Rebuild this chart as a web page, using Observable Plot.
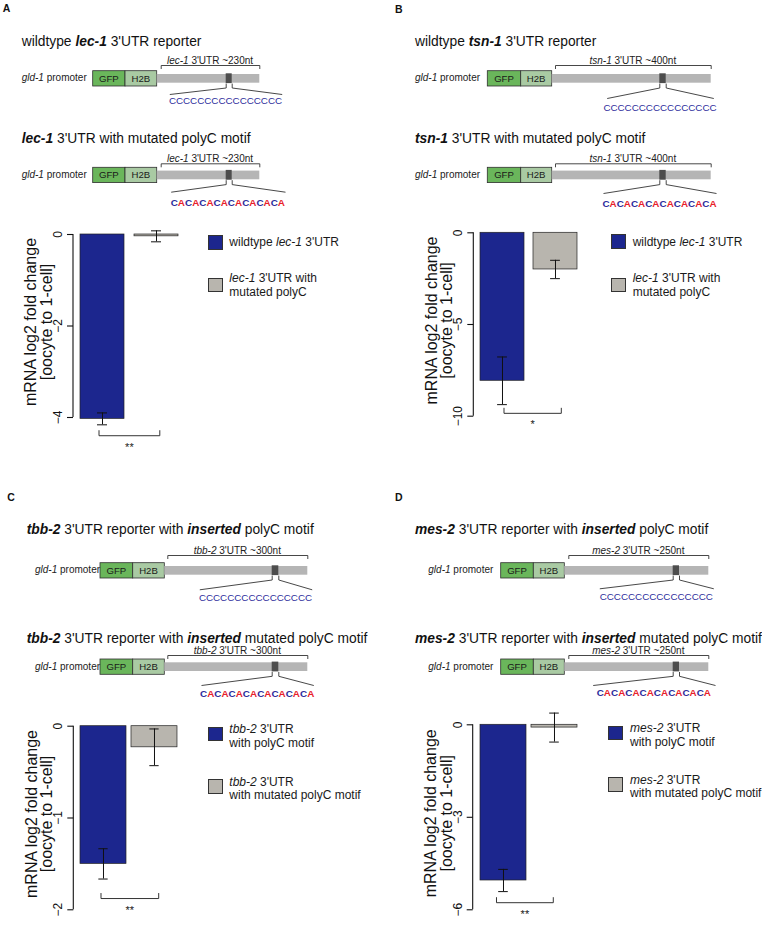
<!DOCTYPE html>
<html><head><meta charset="utf-8">
<script src="https://cdn.jsdelivr.net/npm/d3@7"></script>
<script src="https://cdn.jsdelivr.net/npm/@observablehq/plot@0.6"></script>
<style>
html,body{margin:0;padding:0;background:#fff;overflow:hidden;}
#fig{position:relative;width:762px;height:927px;overflow:hidden;font-family:"Liberation Sans",Arial,Helvetica,sans-serif;color:#111;}
.t{position:absolute;white-space:nowrap;}
</style></head><body><div id="fig"></div>
<script>
// ---------------- data ----------------
const panelLetters = ["A", "B", "C", "D"];
const geneNames = ["lec-1", "tsn-1", "tbb-2", "mes-2"];
const utrLengths = ["~230nt", "~400nt", "~300nt", "~250nt"];
const polyCSeq = "CCCCCCCCCCCCCCCC";
const mutatedSeq = "CACACACACACACACA";
const groupKeys = ["wt", "mut"];
const wtMeans = [-4.03, -8.07, -1.50, -5.05];
const wtErrs = [0.13, 1.30, 0.165, 0.36];
const mutMeans = [-0.04, -2.00, -0.23, -0.09];
const mutErrs = [0.12, 0.50, 0.20, 0.47];
const yTicks = [[0, -2, -4], [0, -5, -10], [0, -1, -2], [0, -3, -6]];
const significance = ["**", "*", "**", "**"];
const yLabelLines = ["mRNA log2 fold change", "[oocyte to 1-cell]"];
// titles: [text, style] parts ("bi" bold italic, "i" italic)
const rowTitles = [
  [["wildtype ", ""], ["lec-1", "bi"], [" 3'UTR reporter", ""]],
  [["lec-1", "bi"], [" 3'UTR with mutated polyC motif", ""]],
  [["wildtype ", ""], ["tsn-1", "bi"], [" 3'UTR reporter", ""]],
  [["tsn-1", "bi"], [" 3'UTR with mutated polyC motif", ""]],
  [["tbb-2", "bi"], [" 3'UTR reporter with ", ""], ["inserted", "bi"], [" polyC motif", ""]],
  [["tbb-2", "bi"], [" 3'UTR reporter with ", ""], ["inserted", "bi"], [" mutated polyC motif", ""]],
  [["mes-2", "bi"], [" 3'UTR reporter with ", ""], ["inserted", "bi"], [" polyC motif", ""]],
  [["mes-2", "bi"], [" 3'UTR reporter with ", ""], ["inserted", "bi"], [" mutated polyC motif", ""]]
];
const legendLabels = [
  [[[["wildtype ", ""], ["lec-1", "i"], [" 3'UTR", ""]]], [[["lec-1", "i"], [" 3'UTR with", ""]], [["mutated polyC", ""]]]],
  [[[["wildtype ", ""], ["lec-1", "i"], [" 3'UTR", ""]]], [[["lec-1", "i"], [" 3'UTR with", ""]], [["mutated polyC", ""]]]],
  [[[["tbb-2", "i"], [" 3'UTR", ""]], [["with polyC motif", ""]]], [[["tbb-2", "i"], [" 3'UTR", ""]], [["with mutated polyC motif", ""]]]],
  [[[["mes-2", "i"], [" 3'UTR", ""]], [["with polyC motif", ""]]], [[["mes-2", "i"], [" 3'UTR", ""]], [["with mutated polyC motif", ""]]]]
];

// ---------------- styles / layout ----------------
const FONT = '"Liberation Sans", Arial, Helvetica, sans-serif';
const BLUE = "#1c268e", GRAY = "#b8b5ae";
const SEQBLUE = "#2c2c9c", SEQRED = "#e8202a";
const schemColors = {gfp: "#6ab65b", h2b: "#a9caa3", utr: "#b5b5b5", motif: "#4d4d4d"};
const letterPos = [[2.7, 11.9], [395, 12.6], [7.3, 500.9], [395, 500.9]];
const schemLayout = [
  {titleX: 21.7, titleBase: 46.7, promX: 21.7, gfp: [92.7, 125], h2bEnd: 156.7, utrEnd: 259.3, blk: [225.7, 231.7], brk: [160.7, 259.3], brkY: 65, boxTop: 70.7, seq: [169.3, 281.7], connEnd: 94, seqBase: 104},
  {titleX: 21.7, titleBase: 143.3, promX: 21.7, gfp: [92.7, 125], h2bEnd: 156.7, utrEnd: 259.3, blk: [225.7, 231.7], brk: [160.7, 259.3], brkY: 163.3, boxTop: 167.3, seq: [170.7, 285], connEnd: 191.7, seqBase: 206.5},
  {titleX: 415, titleBase: 46.7, promX: 415, gfp: [487.3, 520.7], h2bEnd: 551.7, utrEnd: 710.7, blk: [659.3, 665.7], brk: [555, 710.7], brkY: 65, boxTop: 70.7, seq: [606.7, 713.3], connEnd: 98, seqBase: 111},
  {titleX: 415, titleBase: 143.3, promX: 415, gfp: [487.3, 520.7], h2bEnd: 551.7, utrEnd: 710.7, blk: [659.3, 665.7], brk: [555, 710.7], brkY: 163.3, boxTop: 167.3, seq: [603, 716], connEnd: 193, seqBase: 207},
  {titleX: 26.7, titleBase: 535, promX: 35, gfp: [100, 132.7], h2bEnd: 164.3, utrEnd: 307.3, blk: [271.7, 278.3], brk: [167.3, 307.3], brkY: 555, boxTop: 562.7, seq: [199.3, 311.7], connEnd: 589.3, seqBase: 601},
  {titleX: 26.7, titleBase: 643.3, promX: 35, gfp: [100, 132.7], h2bEnd: 164.3, utrEnd: 307.3, blk: [271.7, 278.3], brk: [167.3, 307.3], brkY: 655, boxTop: 659, seq: [201, 313.3], connEnd: 685, seqBase: 697},
  {titleX: 415, titleBase: 535, promX: 428.3, gfp: [500.7, 533.3], h2bEnd: 564.3, utrEnd: 708.3, blk: [672.7, 679], brk: [568.3, 708.3], brkY: 555, boxTop: 562.7, seq: [599.3, 713.3], connEnd: 588.3, seqBase: 600.7},
  {titleX: 415, titleBase: 643.3, promX: 428.3, gfp: [500.7, 533.3], h2bEnd: 564.3, utrEnd: 708.3, blk: [672.7, 679], brk: [568.3, 708.3], brkY: 655, boxTop: 659, seq: [592.7, 715], connEnd: 685, seqBase: 696}
];
const chartLayout = [
  {left: 0, top: 200, axisX: 73, y0: 234, yMin: 417, outer: 7, bw: 44, gap: 10, brOff: 11.4, brDx: [-3, 3.8], legX: 207.7, legY: [235, 277.7], legTextX: 229.3, legDy: 0},
  {left: 400, top: 200, axisX: 473.3, y0: 232.3, yMin: 415.7, outer: 5.7, bw: 44.2, gap: 9.4, brOff: 9.2, brDx: [2, 6.3], legX: 611, legY: [234.3, 277.7], legTextX: 632.7, legDy: 0},
  {left: 0, top: 690, axisX: 73.3, y0: 725.7, yMin: 909.3, outer: 6, bw: 46.7, gap: 4.7, brOff: 20, brDx: [-2, 4.7], legX: 207.7, legY: [726.7, 779], legTextX: 229.3, legDy: 2},
  {left: 400, top: 690, axisX: 472.7, y0: 724.3, yMin: 909.3, outer: 6.6, bw: 46.4, gap: 5, brOff: 11.6, brDx: [-6.5, -0.7], legX: 608.3, legY: [725.7, 777.3], legTextX: 630, legDy: 2}
];

const fig = document.getElementById("fig");
function parts(line) {
  return line.map(([t, s]) => s === "bi" ? `<b><i>${t}</i></b>` : s === "i" ? `<i>${t}</i>` : t).join("");
}
function addText(html, x, base, fs, extra = "") {
  const d = document.createElement("div");
  d.className = "t";
  d.style.cssText = `left:${x}px;top:${base - 0.8465 * fs}px;font-size:${fs}px;line-height:${fs}px;${extra}`;
  d.innerHTML = html;
  fig.appendChild(d);
  return d;
}

// ---------------- schematics (Plot, identity scales) ----------------
const rects = [], links = [];
schemLayout.forEach(s => {
  const bt = s.boxTop, bb = bt + 15.3;
  rects.push({x1: s.gfp[0], x2: s.gfp[1], y1: bt, y2: bb, part: "gfp"});
  rects.push({x1: s.gfp[1], x2: s.h2bEnd, y1: bt, y2: bb, part: "h2b"});
  rects.push({x1: s.h2bEnd, x2: s.utrEnd, y1: bt + 3.3, y2: bt + 12, part: "utr"});
  rects.push({x1: s.blk[0], x2: s.blk[1], y1: bt + 2.6, y2: bt + 12.4, part: "motif"});
  links.push({x1: s.brk[0], y1: s.brkY + 3.5, x2: s.brk[0], y2: s.brkY});
  links.push({x1: s.brk[0], y1: s.brkY, x2: s.brk[1], y2: s.brkY});
  links.push({x1: s.brk[1], y1: s.brkY, x2: s.brk[1], y2: s.brkY + 3.5});
  const yb = bt + 12.4, yk = yb + 4.4;
  links.push({x1: s.blk[0], y1: yb, x2: s.blk[0], y2: yk});
  links.push({x1: s.blk[0], y1: yk, x2: s.seq[0], y2: s.connEnd});
  links.push({x1: s.blk[1], y1: yb, x2: s.blk[1], y2: yk});
  links.push({x1: s.blk[1], y1: yk, x2: s.seq[1], y2: s.connEnd});
});
const schem = Plot.plot({
  width: 762, height: 927, margin: 0,
  style: {background: "transparent", fontFamily: FONT},
  x: {type: "identity", axis: null},
  y: {type: "identity", axis: null},
  marks: [
    Plot.rect(rects, {x1: "x1", x2: "x2", y1: "y1", y2: "y2", fill: d => schemColors[d.part],
      stroke: d => (d.part === "gfp" || d.part === "h2b") ? "#2f2f2f" : "none", strokeWidth: 0.8}),
    Plot.link(links, {x1: "x1", y1: "y1", x2: "x2", y2: "y2", stroke: "#333", strokeWidth: 0.9})
  ]
});
schem.style.position = "absolute"; schem.style.left = "0px"; schem.style.top = "0px";
fig.appendChild(schem);

// schematic texts
schemLayout.forEach((s, r) => {
  const p = Math.floor(r / 2), mutated = r % 2 === 1;
  addText(parts(rowTitles[r]), s.titleX, s.titleBase, 13.8);
  addText("<i>gld-1</i> promoter", s.promX, s.boxTop + 11, 10, "color:#222;");
  addText("GFP", (s.gfp[0] + s.gfp[1]) / 2, s.boxTop + 11.3, 9.6, "transform:translateX(-50%);color:#1a1a1a;");
  addText("H2B", (s.gfp[1] + s.h2bEnd) / 2, s.boxTop + 11.3, 9.6, "transform:translateX(-50%);color:#1a1a1a;");
  addText(`<i>${geneNames[p]}</i> 3'UTR ${utrLengths[p]}`, (s.brk[0] + s.brk[1]) / 2, s.brkY - 0.8, 10, "transform:translateX(-50%);color:#222;");
  const cx = (s.seq[0] + s.seq[1]) / 2;
  if (!mutated) {
    addText(polyCSeq, cx, s.seqBase, 9.8, `transform:translateX(-50%);color:${SEQBLUE};`);
  } else {
    const html = mutatedSeq.split("").map(c => `<span style="color:${c === "A" ? SEQRED : SEQBLUE}">${c}</span>`).join("");
    addText(html, cx, s.seqBase, 9.9, "transform:translateX(-50%);font-weight:bold;");
  }
});
panelLetters.forEach((l, i) => addText(`<b>${l}</b>`, letterPos[i][0], letterPos[i][1], 10.5));

// ---------------- bar charts ----------------
function drawChart(i) {
  const L = chartLayout[i];
  const rows = [
    {key: groupKeys[0], value: wtMeans[i], err: wtErrs[i]},
    {key: groupKeys[1], value: mutMeans[i], err: mutErrs[i]}
  ];
  const ticks = yTicks[i];
  const yMinVal = d3.min(ticks);
  const step = L.bw + L.gap;
  const bandRange = 2 * L.outer + 2 * L.bw + L.gap;
  const marginLeft = L.axisX - L.left;
  const marginTop = L.y0 - L.top;
  const marginBottom = 60, marginRight = 6;
  const width = marginLeft + bandRange + marginRight;
  const height = marginTop + (L.yMin - L.y0) + marginBottom;
  const capInset = (L.bw - 10) / 2;
  const fmt = d => d < 0 ? "\u2212" + (-d) : String(d);
  const lowest = d3.min(rows, d => d.value - d.err);
  const axisLine = (index, scales, values, dims) => d3.create("svg:line")
    .attr("x1", dims.marginLeft).attr("x2", dims.marginLeft)
    .attr("y1", scales.y(0)).attr("y2", scales.y(yMinVal))
    .attr("stroke", "#111").attr("stroke-width", 1.1).node();
  const bracket = (index, scales, values, dims) => {
    const {x, y} = scales;
    const half = x.bandwidth() / 2;
    const yb = y(lowest) + L.brOff;
    const x1 = x(groupKeys[0]) + half + L.brDx[0];
    const x2 = x(groupKeys[1]) + half + L.brDx[1];
    const g = d3.create("svg:g");
    g.append("path").attr("d", `M${x1},${yb - 5.5}V${yb}H${x2}V${yb - 5.5}`)
      .attr("fill", "none").attr("stroke", "#333").attr("stroke-width", 1);
    g.append("text").attr("x", (x1 + x2) / 2).attr("y", yb + 15).attr("text-anchor", "middle")
      .attr("font-size", 11).attr("fill", "#222").text(significance[i]);
    return g.node();
  };
  const svg = Plot.plot({
    width, height, marginLeft, marginRight, marginTop, marginBottom,
    style: {background: "transparent", overflow: "visible", fontFamily: FONT},
    x: {type: "band", domain: groupKeys, paddingInner: L.gap / step, paddingOuter: L.outer / step, axis: null},
    y: {domain: [yMinVal, 0], axis: null},
    color: {domain: groupKeys, range: [BLUE, GRAY]},
    marks: [
      axisLine,
      Plot.axisY({ticks, tickSize: 6, fill: "none", label: null, strokeWidth: 1.1, stroke: "#111"}),
      Plot.text(ticks, {y: d => d, text: fmt, frameAnchor: "left", textAnchor: "middle", lineAnchor: "middle", rotate: -90, dx: -15.5, fontSize: 12, fill: "#111"}),
      Plot.text([yLabelLines.join("\n")], {text: d => d, frameAnchor: "left", textAnchor: "middle", lineAnchor: "middle", rotate: -90, dx: -34.3, dy: -4, fontSize: 16, lineHeight: 0.97, fill: "#111"}),
      Plot.barY(rows, {x: "key", y: "value", fill: "key", stroke: "#222", strokeWidth: 0.7}),
      Plot.ruleX(rows, {x: "key", y1: d => d.value - d.err, y2: d => d.value + d.err, stroke: "#111", strokeWidth: 1}),
      Plot.tickY(rows, {x: "key", y: d => d.value - d.err, inset: capInset, stroke: "#111", strokeWidth: 1}),
      Plot.tickY(rows, {x: "key", y: d => d.value + d.err, inset: capInset, stroke: "#111", strokeWidth: 1}),
      bracket
    ]
  });
  svg.style.position = "absolute";
  svg.style.left = L.left + "px";
  svg.style.top = L.top + "px";
  fig.appendChild(svg);

  // legend
  L.legY.forEach((sy, j) => {
    const sq = document.createElement("div");
    sq.style.cssText = `position:absolute;left:${L.legX}px;top:${sy}px;width:15px;height:14.5px;box-sizing:border-box;border:1px solid #333;background:${j ? GRAY : BLUE};`;
    fig.appendChild(sq);
    const lines = legendLabels[i][j];
    const c = sy + 7.3 + L.legDy;
    lines.forEach((ln, k) => addText(parts(ln), L.legTextX, c + 4.3 + (k - (lines.length - 1) / 2) * 13.4, 12, "color:#1a1a1a;"));
  });
}
[0, 1, 2, 3].forEach(drawChart);
</script></body></html>
